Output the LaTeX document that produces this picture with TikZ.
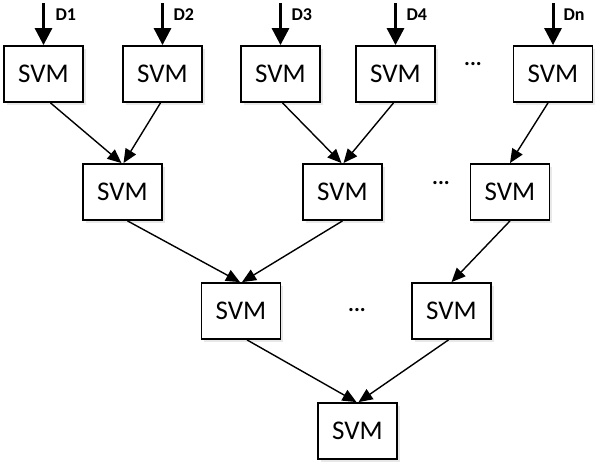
\documentclass[tikz,border=0pt]{standalone}
\usepackage{fontspec}
\setmainfont{Carlito}
\usetikzlibrary{arrows.meta,shadows}
\begin{document}
\begin{tikzpicture}[x=1pt,y=-1pt,
  svmbox/.style={draw, line width=1.8pt, minimum width=79pt, minimum height=56pt, inner sep=0pt, fill=white, font=\fontsize{27}{28}\selectfont,
    drop shadow={opacity=0.18, shadow xshift=2.5pt, shadow yshift=-2.5pt}},
  inarrow/.style={line width=3pt, -{Triangle[length=17pt,width=17pt]}},
  link/.style={line width=1.4pt, -{Triangle[length=14pt,width=12pt]}},
  dlabel/.style={font=\fontsize{18}{18}\selectfont\bfseries, anchor=west},
  dots/.style={font=\fontsize{22}{22}\selectfont\bfseries}]
\useasboundingbox (0,0) rectangle (601,466);
% top row
\node[svmbox] (t1) at (43.5,74) {SVM};
\node[svmbox] (t2) at (162.5,74) {SVM};
\node[svmbox] (t3) at (280.5,74) {SVM};
\node[svmbox] (t4) at (395.5,74) {SVM};
\node[svmbox] (tn) at (553,74) {SVM};
\node[dots] (d0) at (473,64) {...};
% input arrows
\coordinate (i1) at (43.5,3);
\coordinate (i2) at (162.5,3);
\coordinate (i3) at (280.5,3);
\coordinate (i4) at (395.5,3);
\coordinate (in) at (553,3);
\draw[inarrow] (i1) -- (t1.north);
\draw[inarrow] (i2) -- (t2.north);
\draw[inarrow] (i3) -- (t3.north);
\draw[inarrow] (i4) -- (t4.north);
\draw[inarrow] (in) -- (tn.north);
\node[dlabel] (l1) at (52,15) {D1};
\node[dlabel] (l2) at (170,15) {D2};
\node[dlabel] (l3) at (288,15) {D3};
\node[dlabel] (l4) at (403,15) {D4};
\node[dlabel] (ln) at (560,15) {Dn};
% middle row
\node[svmbox] (m1) at (122.5,192) {SVM};
\node[svmbox] (m2) at (342.5,192) {SVM};
\node[svmbox] (m3) at (510,192) {SVM};
\node[dots] (d1) at (441,183) {...};
% third row
\node[svmbox] (r1) at (241,311) {SVM};
\node[svmbox] (r2) at (451.5,311) {SVM};
\node[dots] (d2) at (357,310) {...};
% bottom
\node[svmbox] (b) at (357.5,431) {SVM};
% links
\draw[link] ([xshift=7pt]t1.south) -- ([xshift=-1pt]m1.north);
\draw[link] ([xshift=-2pt]t2.south) -- ([xshift=1pt]m1.north);
\draw[link] ([xshift=2pt]t3.south) -- ([xshift=-1pt]m2.north);
\draw[link] ([xshift=-2pt]t4.south) -- ([xshift=1pt]m2.north);
\draw[link] ([xshift=-5pt]tn.south) -- ([xshift=0pt]m3.north);
\draw[link] ([xshift=5pt]m1.south) -- ([xshift=-1pt]r1.north);
\draw[link] ([xshift=0pt]m2.south) -- ([xshift=1pt]r1.north);
\draw[link] ([xshift=0pt]m3.south) -- ([xshift=0pt]r2.north);
\draw[link] ([xshift=6pt]r1.south) -- ([xshift=-1pt]b.north);
\draw[link] ([xshift=-3pt]r2.south) -- ([xshift=1pt]b.north);
\end{tikzpicture}
\end{document}
